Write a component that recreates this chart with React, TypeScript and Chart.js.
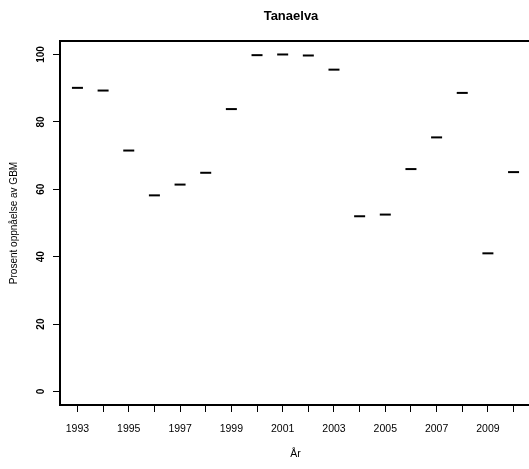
import React, { useEffect, useRef } from "react";
import { Chart, registerables } from "chart.js";

Chart.register(...registerables);

const years: number[] = [1993, 1994, 1995, 1996, 1997, 1998, 1999, 2000, 2001, 2002, 2003, 2004, 2005, 2006, 2007, 2008, 2009, 2010];
const values: number[] = [90.1, 89.3, 71.5, 58.2, 61.4, 64.9, 83.8, 99.8, 100.0, 99.7, 95.5, 52.0, 52.5, 66.0, 75.4, 88.6, 41.0, 65.1];
const yTickValues: number[] = [0, 20, 40, 60, 80, 100];
const xLabelYears: number[] = [1993, 1995, 1997, 1999, 2001, 2003, 2005, 2007, 2009];

const titleText = "Tanaelva";
const xTitle = "År";
const yTitle = "Prosent oppnåelse av GBM";

const FONT = "'Liberation Sans', Arial, sans-serif";

const boxPlugin = {
  id: "rbox",
  afterDraw(chart: any) {
    const { ctx, chartArea } = chart;
    ctx.save();
    ctx.strokeStyle = "#000";
    ctx.lineWidth = 2;
    ctx.strokeRect(chartArea.left, chartArea.top, chartArea.right - chartArea.left, chartArea.bottom - chartArea.top);
    // title
    ctx.fillStyle = "#000";
    ctx.font = `bold 13px ${FONT}`;
    ctx.textAlign = "center";
    ctx.textBaseline = "middle";
    ctx.fillText(titleText, 291, 16);
    // rotated y tick labels (R style)
    const ys = chart.scales.y;
    ctx.font = `bold 10px ${FONT}`;
    for (const v of yTickValues) {
      const py = ys.getPixelForValue(v);
      ctx.save();
      ctx.translate(chartArea.left - 19, py);
      ctx.rotate(-Math.PI / 2);
      ctx.fillText(String(v), 0, 0);
      ctx.restore();
    }
    ctx.restore();
  },
};

export default function App() {
  const ref = useRef<HTMLCanvasElement | null>(null);

  useEffect(() => {
    if (!ref.current) return;
    const chart = new Chart(ref.current, {
      type: "scatter",
      data: {
        datasets: [
          {
            data: years.map((y, i) => ({ x: y, y: values[i] })),
            showLine: false,
            pointStyle: "line",
            pointRadius: 5.5,
            pointHoverRadius: 5.5,
            borderWidth: 2,
            pointBorderWidth: 2,
            borderColor: "#000",
            backgroundColor: "#000",
          },
        ],
      },
      options: {
        animation: false,
        responsive: false,
        devicePixelRatio: 1,
        layout: { padding: { top: 41, left: 0, right: 0, bottom: 0 }, autoPadding: false },
        plugins: {
          legend: { display: false },
          tooltip: { enabled: false },
          title: { display: false },
        },
        scales: {
          x: {
            type: "linear",
            min: 1992.32,
            max: 2010.68,
            border: { display: false },
            grid: { drawOnChartArea: false, tickLength: 7, tickColor: "#000", lineWidth: 1 },
            ticks: {
              stepSize: 1,
              includeBounds: false,
              autoSkip: false,
              maxRotation: 0,
              minRotation: 0,
              padding: 11,
              color: "#000",
              font: { family: FONT, size: 10.5 },
              callback: (v: any) => (xLabelYears.includes(Number(v)) ? String(v) : ""),
            },
            title: {
              display: true,
              text: xTitle,
              color: "#000",
              font: { family: FONT, size: 10.5 },
              padding: { top: 0, bottom: 9 },
            },
            afterFit: (s: any) => {
              s.height = 64;
            },
          },
          y: {
            type: "linear",
            min: -4,
            max: 104,
            border: { display: false },
            grid: { drawOnChartArea: false, tickLength: 7, tickColor: "#000", lineWidth: 1 },
            ticks: {
              stepSize: 20,
              includeBounds: false,
              display: false,
            },
            title: {
              display: true,
              text: yTitle,
              color: "#000",
              font: { family: FONT, size: 10 },
              padding: { top: 8, bottom: 0 },
            },
            afterFit: (s: any) => {
              s.width = 60;
            },
          },
        },
      } as any,
      plugins: [boxPlugin],
    });
    return () => chart.destroy();
  }, []);

  return (
    <div style={{ position: "fixed", left: 0, top: 0, width: 529, height: 469, overflow: "hidden", background: "#fff" }}>
      <canvas ref={ref} width={531} height={469} style={{ display: "block", width: 531, height: 469 }} />
    </div>
  );
}
